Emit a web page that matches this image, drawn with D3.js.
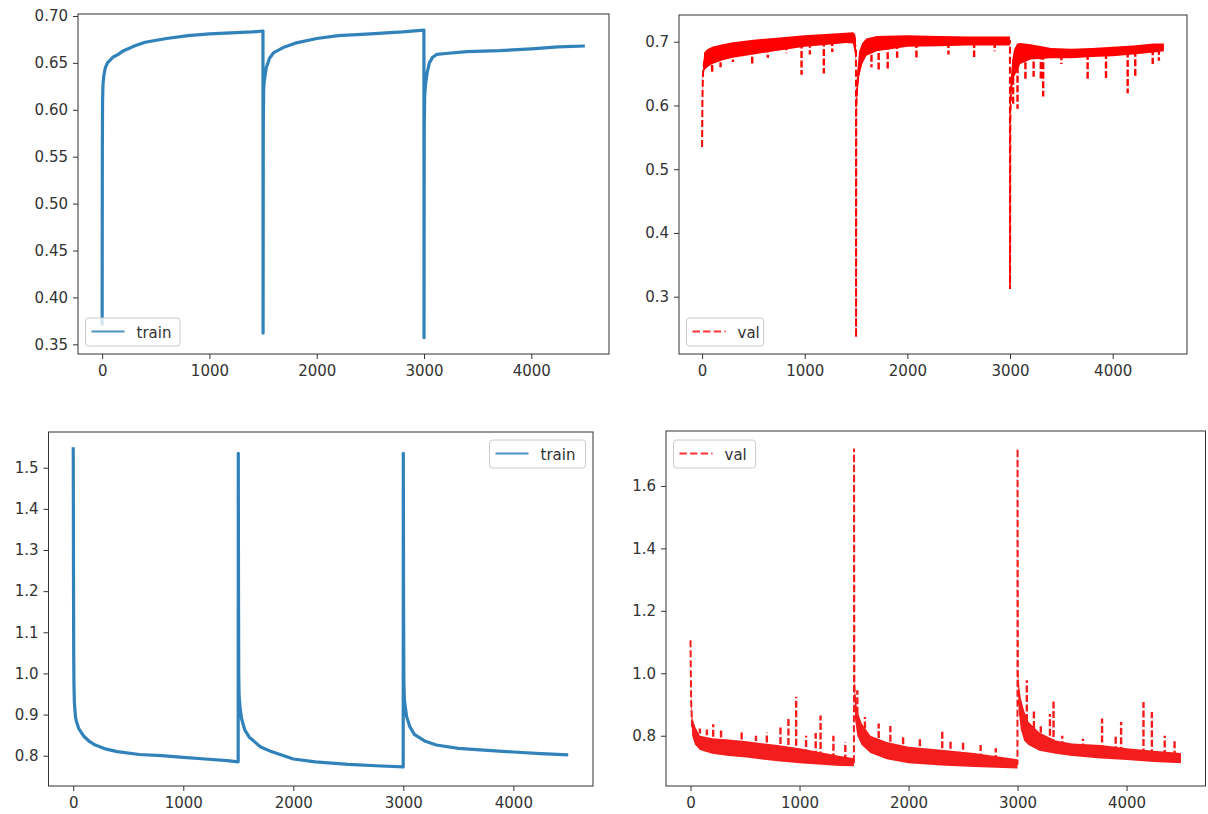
<!DOCTYPE html>
<html lang="en">
<head>
<meta charset="UTF-8">
<title>training curves</title>
<style>
  body { margin: 0; background: #fff; }
  svg { display: block; font-family: "DejaVu Sans", sans-serif; }
</style>
</head>
<body>
<svg width="1208" height="814"></svg>
<script src="https://d3js.org/d3.v7.min.js"></script>
<script>
// ---- data: [epoch, value] ----
const trainAcc = [
  [0,0.370],[2,0.56],[4,0.61],[8,0.627],[15,0.636],[30,0.645],[50,0.650],[100,0.656],[150,0.659],
  [200,0.663],[300,0.668],[400,0.672],[600,0.676],[800,0.679],[1000,0.681],[1200,0.682],[1400,0.683],[1499,0.684],
  [1500,0.362],[1502,0.58],[1505,0.62],[1510,0.63],[1530,0.645],[1560,0.655],[1600,0.661],[1700,0.667],
  [1800,0.671],[2000,0.676],[2200,0.679],[2500,0.681],[2800,0.683],[2999,0.685],
  [3000,0.357],[3002,0.58],[3006,0.615],[3015,0.628],[3030,0.640],[3050,0.650],[3080,0.656],[3120,0.659],
  [3200,0.660],[3400,0.662],[3700,0.663],[4000,0.665],[4250,0.667],[4499,0.668]
];

const trainLoss = [
  [0,1.55],[2,1.25],[4,1.05],[6,0.98],[10,0.93],[20,0.895],[30,0.882],[50,0.866],[100,0.846],[150,0.834],
  [200,0.826],[300,0.816],[400,0.810],[600,0.803],[800,0.800],[1000,0.796],[1200,0.792],[1400,0.788],[1499,0.785],
  [1500,1.535],[1502,1.2],[1504,1.0],[1507,0.95],[1515,0.92],[1530,0.89],[1560,0.862],[1600,0.845],[1700,0.822],
  [1800,0.810],[2000,0.792],[2200,0.785],[2500,0.779],[2800,0.775],[2999,0.773],
  [3000,1.535],[3002,1.2],[3005,0.98],[3010,0.935],[3030,0.895],[3060,0.870],[3100,0.852],[3200,0.835],
  [3300,0.826],[3500,0.818],[3700,0.814],[4000,0.809],[4250,0.805],[4499,0.802]
];

// val curves are very noisy: [epoch, low edge, high edge] of the dense band
const valAccBand = [
  [0,0.535,0.535],[3,0.60,0.62],[6,0.625,0.64],[10,0.645,0.66],[20,0.655,0.683],[50,0.66,0.688],
  [100,0.665,0.692],[200,0.671,0.696],[300,0.675,0.699],[500,0.680,0.703],[700,0.685,0.706],[1000,0.692,0.710],
  [1200,0.695,0.712],[1400,0.698,0.714],[1470,0.697,0.715],[1490,0.68,0.712],[1499,0.67,0.705],
  [1500,0.236,0.236],[1502,0.58,0.60],[1506,0.60,0.63],[1515,0.62,0.66],[1530,0.645,0.685],[1560,0.665,0.698],
  [1600,0.678,0.705],[1700,0.685,0.709],[2000,0.692,0.710],[2300,0.693,0.709],[2600,0.694,0.708],[2999,0.694,0.708],
  [3000,0.312,0.312],[3003,0.56,0.60],[3008,0.60,0.64],[3020,0.63,0.67],[3040,0.645,0.688],[3070,0.655,0.697],
  [3100,0.665,0.698],[3200,0.672,0.696],[3400,0.674,0.690],[3600,0.674,0.689],[3800,0.676,0.690],[4000,0.677,0.692],
  [4200,0.680,0.694],[4400,0.683,0.697],[4499,0.685,0.697]
];
// downward spikes below the band: [epoch, tip]
const valAccSpikes = [
  [98,0.653],[180,0.66],[300,0.668],[488,0.666],[640,0.675],[820,0.682],[969,0.648],[1050,0.68],[1186,0.650],[1268,0.684],
  [1650,0.66],[1720,0.653],[1808,0.658],[1900,0.675],[2088,0.671],[2400,0.68],[2650,0.676],[2850,0.685],
  [3030,0.60],[3073,0.595],[3150,0.64],[3230,0.645],[3300,0.64],[3323,0.614],[3500,0.665],[3756,0.640],
  [3935,0.640],[4146,0.619],[4220,0.646],[4390,0.665],[4450,0.67]
];

const valLossBand = [
  [0,1.106,1.106],[3,0.98,1.0],[6,0.88,0.93],[15,0.80,0.86],[40,0.772,0.83],[86,0.754,0.80],[200,0.742,0.792],
  [350,0.735,0.788],[515,0.730,0.782],[800,0.718,0.770],[1000,0.712,0.760],[1373,0.703,0.735],[1499,0.702,0.728],
  [1500,1.72,1.72],[1503,0.95,1.0],[1510,0.85,0.94],[1530,0.80,0.88],[1570,0.770,0.84],[1650,0.745,0.80],
  [1800,0.725,0.78],[2000,0.712,0.765],[2300,0.705,0.755],[2600,0.700,0.745],[2999,0.695,0.725],
  [3000,1.72,1.72],[3003,0.98,1.0],[3010,0.88,0.97],[3030,0.82,0.92],[3060,0.785,0.88],[3100,0.770,0.845],
  [3200,0.752,0.81],[3350,0.742,0.785],[3500,0.735,0.775],[3766,0.727,0.770],[4000,0.722,0.760],
  [4250,0.716,0.752],[4499,0.712,0.745]
];
// upward spikes above the band: [epoch, tip]
const valLossSpikes = [
  [30,0.84],[86,0.823],[150,0.82],[208,0.837],[280,0.82],[469,0.818],[600,0.80],[700,0.81],[825,0.826],
  [898,0.86],[969,0.925],[1060,0.80],[1148,0.809],[1193,0.865],[1311,0.80],[1420,0.78],
  [1530,0.946],[1600,0.86],[1726,0.839],[1833,0.831],[1950,0.80],[2104,0.791],[2309,0.818],[2385,0.786],
  [2500,0.78],[2661,0.770],[2800,0.76],
  [3085,0.978],[3150,0.882],[3213,0.83],[3297,0.87],[3330,0.914],[3410,0.80],[3600,0.79],[3775,0.855],
  [3900,0.80],[3950,0.844],[4155,0.908],[4232,0.876],[4350,0.80],[4440,0.786]
];

const xTicks = [0, 1000, 2000, 3000, 4000];
const trainAccTicks = [0.35, 0.40, 0.45, 0.50, 0.55, 0.60, 0.65, 0.70];
const valAccTicks = [0.3, 0.4, 0.5, 0.6, 0.7];
const trainLossTicks = [0.8, 0.9, 1.0, 1.1, 1.2, 1.3, 1.4, 1.5];
const valLossTicks = [0.8, 1.0, 1.2, 1.4, 1.6];

const svg = d3.select("svg");
const blue = "#1f77b4";

// linear interpolation of the band centre at an epoch
function bandMid(band, e) {
  const i = Math.max(1, Math.min(band.length - 1, d3.bisector(d => d[0]).right(band, e)));
  const a = band[i - 1], b = band[i];
  const t = (e - a[0]) / (b[0] - a[0]);
  return (a[1] + a[2]) / 2 * (1 - t) + (b[1] + b[2]) / 2 * t;
}

function panel(p) {
  const x = d3.scaleLinear().domain([-225, 4724]).range([p.left, p.right]);
  const y = d3.scaleLinear().domain(p.yDomain).range([p.bottom, p.top]);
  const g = svg.append("g");

  g.append("clipPath").attr("id", "clip" + p.id).append("rect")
    .attr("x", p.left).attr("y", p.top)
    .attr("width", p.right - p.left).attr("height", p.bottom - p.top);
  const plot = g.append("g").attr("clip-path", `url(#clip${p.id})`);

  if (p.line) {
    plot.append("path").datum(p.line)
      .attr("d", d3.line().x(d => x(d[0])).y(d => y(d[1])))
      .attr("fill", "none").attr("stroke", blue).attr("stroke-width", 3.2)
      .attr("stroke-linejoin", "round").attr("opacity", 0.92);
  } else {
    plot.append("path").datum(p.band)
      .attr("d", d3.line().x(d => x(d[0])).y(d => y((d[1] + d[2]) / 2)))
      .attr("fill", "none").attr("stroke", p.color).attr("stroke-width", 2)
      .attr("stroke-dasharray", "7,3");
    plot.selectAll(".spike").data(p.spikes).join("line")
      .attr("x1", d => x(d[0])).attr("x2", d => x(d[0]))
      .attr("y1", d => y(bandMid(p.band, d[0]))).attr("y2", d => y(d[1]))
      .attr("stroke", p.color).attr("stroke-width", 2.4)
      .attr("stroke-dasharray", "7,2.5");
    plot.append("path").datum(p.band)
      .attr("d", d3.area().x(d => x(d[0])).y0(d => y(d[1])).y1(d => y(d[2])))
      .attr("fill", p.color);
  }

  const ax = g.append("g").attr("transform", `translate(0,${p.bottom})`)
    .call(d3.axisBottom(x).tickValues(xTicks).tickSize(5).tickPadding(6).tickFormat(d3.format("d")));
  const ay = g.append("g").attr("transform", `translate(${p.left},0)`)
    .call(d3.axisLeft(y).tickValues(p.yTicks).tickSize(5).tickPadding(5).tickFormat(d3.format(p.fmt)));
  [ax, ay].forEach(a => {
    a.select(".domain").remove();
    a.selectAll("line").attr("stroke", "#333");
    a.selectAll("text").attr("fill", "#333").style("font-size", "15px")
      .style("font-family", '"DejaVu Sans", sans-serif');
  });

  g.append("rect")
    .attr("x", p.left).attr("y", p.top)
    .attr("width", p.right - p.left).attr("height", p.bottom - p.top)
    .attr("fill", "none").attr("stroke", "#333").attr("stroke-width", 1);

  // legend
  const L = p.legend;
  const lg = g.append("g");
  lg.append("rect").attr("x", L.x).attr("y", L.y).attr("width", L.w).attr("height", L.h)
    .attr("rx", 3).attr("fill", "#fff").attr("fill-opacity", 0.8)
    .attr("stroke", "#ccc").attr("stroke-width", 1);
  lg.append("line").attr("x1", L.x + 6).attr("x2", L.x + 39)
    .attr("y1", L.y + 13.5).attr("y2", L.y + 13.5)
    .attr("stroke", p.line ? blue : "#ff0000").attr("stroke-width", 2).attr("opacity", 0.8)
    .attr("stroke-dasharray", p.line ? null : "7.4,3.2");
  lg.append("text").attr("x", L.x + 51).attr("y", L.y + 19.5)
    .attr("fill", "#333").style("font-size", "15px").text(L.label);
}

panel({ id: 1, left: 78, right: 609, top: 14, bottom: 354, yDomain: [0.3397, 0.7021],
  yTicks: trainAccTicks, fmt: ".2f", line: trainAcc,
  legend: { x: 85.5, y: 318, w: 94.5, h: 28, label: "train" } });

panel({ id: 2, left: 679, right: 1187, top: 15, bottom: 354, yDomain: [0.2101, 0.7419],
  yTicks: valAccTicks, fmt: ".1f", band: valAccBand, spikes: valAccSpikes, color: "#ff0000",
  legend: { x: 686.5, y: 318, w: 77, h: 28, label: "val" } });

panel({ id: 3, left: 48.5, right: 593, top: 432, bottom: 786, yDomain: [0.7264, 1.5868],
  yTicks: trainLossTicks, fmt: ".1f", line: trainLoss,
  legend: { x: 489.5, y: 440, w: 96, h: 28, label: "train" } });

panel({ id: 4, left: 666, right: 1205.5, top: 431, bottom: 786, yDomain: [0.639, 1.776],
  yTicks: valLossTicks, fmt: ".1f", band: valLossBand, spikes: valLossSpikes, color: "#f41c1c",
  legend: { x: 673.5, y: 440, w: 82, h: 28, label: "val" } });
</script>
</body>
</html>
